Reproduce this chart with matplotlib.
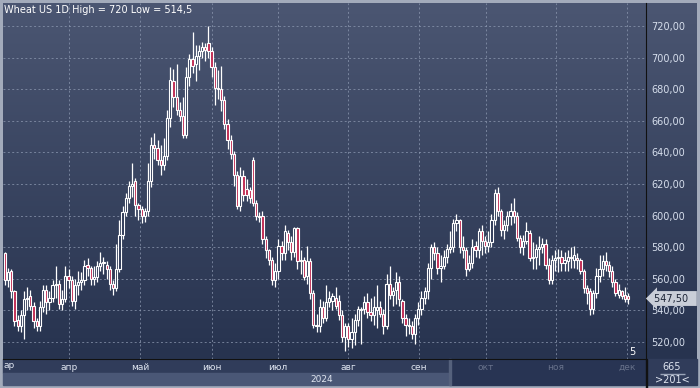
import matplotlib.pyplot as plt
import matplotlib.transforms as mtransforms
import numpy as np
from matplotlib.colors import LinearSegmentedColormap
from matplotlib.patches import Rectangle

opens = [576, 559, 565, 552, 534, 530, 537, 547, 549, 543, 533, 530, 542, 553, 545, 548, 556, 557, 544, 547,
         562, 559, 546, 556, 558, 559, 569, 567, 560, 561, 568, 570, 569, 566, 557, 554, 566, 588, 602, 611,
         619, 622,
         607, 604, 600, 603, 622, 645, 643, 635, 632, 638, 662, 685, 675, 667, 663, 651, 688, 699,
         696, 701, 704, 707, 709, 704, 694, 681, 680, 673, 658, 648, 639, 626, 606, 625, 617, 616, 635, 608,
         599, 600, 585, 578,
         572, 559, 565, 581, 576, 589, 583, 577, 592, 571, 572, 562, 571, 551, 531, 530, 542, 535, 545, 546,
         548, 546, 537, 523, 530, 522, 526, 534, 540, 541, 545, 539, 537, 540, 542, 538, 530, 557, 550, 553,
         558, 546, 535, 531, 530, 525, 535, 541, 548, 552, 567, 580, 576, 567, 568, 574, 579, 580, 595, 597,
         580, 578, 566, 570, 581, 578, 590, 584, 581, 583, 597, 614, 603, 591, 594, 600, 603, 600, 586, 580,
         584, 589, 573, 574, 579, 580, 582, 569, 559, 572, 573, 574, 570, 571, 574, 572, 573, 572, 565, 554,
         552, 541, 551, 562, 566, 571, 569, 565, 558, 550, 552, 550, 549]
highs = [577, 567, 566, 553, 537, 540, 552, 555, 553, 545, 535, 546, 556, 556, 552, 559, 568, 559, 553, 568,
         566, 562, 560, 565, 564, 572, 573, 568, 568, 571, 577, 574, 571, 568, 559, 582, 597, 606, 614, 622,
         633, 624,
         608, 606, 605, 633, 650, 652, 648, 645, 649, 667, 694, 693, 696, 672, 675, 694, 702, 716,
         708, 708, 710, 709, 720, 707, 697, 692, 695, 676, 661, 651, 641, 628, 631, 629, 623, 618, 637, 610,
         602, 603, 587, 579,
         574, 570, 585, 584, 594, 591, 587, 593, 593, 578, 574, 581, 573, 553, 538, 547, 546, 556, 552, 551,
         555, 550, 540, 532, 532, 535, 538, 543, 542, 549, 551, 548, 549, 556, 546, 541, 563, 568, 555, 564,
         562, 547, 538, 535, 533, 538, 545, 552, 555, 570, 582, 583, 580, 575, 578, 582, 590, 598, 601,
         598, 587, 580, 575, 585, 584, 592, 594, 587, 590, 601, 617, 618, 604, 597, 603, 608, 611, 602, 588,
         588, 596, 591, 583, 582, 587, 586, 585, 573, 575, 578, 579, 578, 577, 578, 580, 581, 576, 573, 566,
         556, 554, 553, 567, 575, 575, 577, 571, 568, 560, 557, 553, 555, 551]
lows = [556, 555, 548, 530, 527, 526, 522, 540, 540, 529, 527, 527, 539, 538, 540, 545, 548, 541, 540, 545,
        554, 543, 541, 550, 553, 556, 562, 556, 556, 558, 565, 563, 560, 553, 550, 552, 564, 585, 600, 608,
        612, 600,
        597, 595, 596, 600, 618, 636, 632, 626, 629, 635, 656, 669, 664, 660, 649, 649, 682, 690,
        685, 692, 700, 698, 700, 688, 670, 674, 666, 655, 642, 636, 619, 604, 603, 609, 609, 608, 606, 597,
        596, 582, 573, 569,
        556, 555, 560, 572, 572, 578, 572, 574, 566, 563, 559, 557, 547, 529, 526, 526, 532, 533, 542, 540,
        541, 534, 520, 514.5, 517, 516, 518, 530, 519, 538, 535, 533, 531, 529, 536, 525, 528, 547, 543, 544,
        543, 532, 524, 525, 522, 519, 531, 537, 544, 547, 560, 572, 563, 558, 566, 570, 576, 577, 590,
        576, 573, 562, 565, 567, 574, 573, 575, 576, 577, 580, 594, 600, 587, 585, 590, 594, 595, 584, 576,
        575, 582, 571, 566, 566, 569, 576, 566, 557, 557, 565, 564, 565, 565, 565, 567, 567, 566, 563, 551,
        544, 537, 538, 548, 558, 562, 565, 561, 555, 549, 548, 547, 545, 544]
closes = [559, 564, 552, 533, 530, 537, 547, 548, 543, 533, 530, 542, 553, 545, 548, 556, 557, 544, 547, 562,
          559, 546, 556, 558, 559, 568, 567, 560, 561, 568, 570, 570, 566, 557, 554, 566, 588, 602, 611, 619,
          620, 607,
          604, 600, 603, 622, 645, 643, 635, 632, 638, 662, 686, 675, 667, 663, 651, 688, 699, 695,
          701, 704, 707, 705, 704, 694, 681, 680, 673, 658, 648, 639, 626, 606, 625, 613, 613, 611, 608, 600,
          600, 585, 578, 572,
          559, 565, 581, 576, 590, 583, 577, 592, 571, 572, 561, 571, 551, 531, 530, 542, 535, 545, 548, 549,
          543, 537, 523, 530, 522, 526, 534, 541, 541, 545, 539, 537, 542, 542, 538, 530, 557, 550, 552, 558,
          547, 535, 531, 530, 525, 535, 541, 548, 552, 567, 580, 576, 567, 568, 574, 579, 580, 595, 597,
          580, 578, 566, 570, 580, 578, 590, 584, 581, 583, 597, 614, 603, 591, 594, 600, 603, 600, 586, 580,
          584, 590, 573, 574, 579, 580, 582, 569, 559, 572, 573, 574, 570, 572, 574, 573, 575, 572, 565, 554,
          551, 541, 551, 562, 566, 571, 569, 565, 558, 551, 553, 549, 547, 547.5]

month_pos = [20.1, 42.5, 65.1, 85.8, 107.9, 130.2, 151.3, 173.3, 195.6]
month_labels = ['апр', 'май', 'июн', 'июл', 'авг', 'сен', 'окт', 'ноя', 'дек']
price_ticks = [520, 540, 560, 580, 600, 620, 640, 660, 680, 700, 720]

W, H = 700, 388


def fx(px):
    return px / W


def fy(py):
    return 1 - py / H


def panel(x0, y0, x1, y1, color, z=-1):
    # Rechteck in Pixelkoordinaten (y von oben)
    fig.patches.append(Rectangle((fx(x0), fy(y1)), fx(x1) - fx(x0), fy(y0) - fy(y1),
                                 transform=fig.transFigure, color=color, zorder=z))


fig = plt.figure(figsize=(7, 3.88), dpi=100)
fig.patch.set_facecolor('#a3abbb')

# Hintergrund mit Farbverlauf (Chart + Preisachse)
bg = fig.add_axes([fx(3), fy(359), fx(697) - fx(3), fy(3) - fy(359)])
bg.set_zorder(-3)
grad = np.linspace(0, 1, 256).reshape(-1, 1)
cmap = LinearSegmentedColormap.from_list('bg', ['#4b5672', '#27334f'])
bg.imshow(grad, aspect='auto', cmap=cmap, extent=[0, 1, 0, 1])
bg.axis('off')

# Datumsleiste unten
panel(3, 359, 450, 373, '#303c5a')
panel(3, 373, 450, 385, '#4a5776')
panel(450, 359, 646, 385, '#283453')
panel(449, 359, 451, 385, '#55617c')
panel(647, 359, 697, 385, '#303c5a')
panel(646, 359, 647, 388, '#111111')
panel(660, 373.5, 685, 374.2, '#9aa4b8')

ax = fig.add_axes([fx(3), fy(359), (646 - 3) / W, (359 - 3) / H])
ax.patch.set_alpha(0)

o = np.array(opens, dtype=float)
h = np.array(highs, dtype=float)
l = np.array(lows, dtype=float)
c = np.array(closes, dtype=float)
x = np.arange(len(c))
up = c >= o
top = np.maximum(o, c)
bot = np.minimum(o, c)

ax.vlines(x, top, h, color='white', lw=0.9, zorder=3)
ax.vlines(x, l, bot, color='white', lw=0.9, zorder=3)
ax.bar(x, np.maximum(top - bot, 0.4), bottom=bot, width=0.7,
       color=np.where(up, '#2d3956', '#c02a52'), edgecolor='white', linewidth=0.8, zorder=4)

ax.set_xlim(-0.6, 201.6)
ax.set_ylim(509.2, 734.6)

ax.set_yticks(price_ticks)
ax.set_yticklabels([f'{v:.2f}'.replace('.', ',') for v in price_ticks])
ax.yaxis.tick_right()
ax.tick_params(axis='y', length=0, pad=4, labelsize=7, labelcolor='#d6deec')
ax.set_xticks(month_pos)
ax.set_xticklabels(month_labels)
ax.tick_params(axis='x', length=0, pad=3, labelsize=6.5)
for i, lab in enumerate(ax.get_xticklabels()):
    lab.set_color('#dfe5f0' if i < 6 else '#67718a')

ax.grid(True, color='#8c98b0', ls=(0, (2, 2.5)), lw=0.7, alpha=0.75)
ax.set_axisbelow(True)
for side in ['top', 'left']:
    ax.spines[side].set_visible(False)
ax.spines['right'].set_color('#111111')
ax.spines['bottom'].set_color('#111111')

fig.text(fx(4), fy(10), 'Wheat US 1D High = 720 Low = 514,5', fontsize=7, color='white', va='center')
fig.text(fx(3), fy(366), 'ар', fontsize=6.5, color='#dfe5f0', va='center')
fig.text(fx(322), fy(379), '2024', fontsize=6.5, color='#dfe5f0', va='center', ha='center')
fig.text(fx(632), fy(352), '5', fontsize=7, color='white', va='center', ha='center')
fig.text(fx(672), fy(367), '665', fontsize=7, color='#dfe5f0', va='center', ha='center')
fig.text(fx(672), fy(380), '>201<', fontsize=7, color='#dfe5f0', va='center', ha='center')

trans = mtransforms.blended_transform_factory(fig.transFigure, ax.transData)
ax.text(fx(654), closes[-1], '547,50  ', transform=trans, fontsize=7, color='#1c2436',
        va='center', ha='left', clip_on=False,
        bbox=dict(boxstyle='larrow,pad=0.25', facecolor='#c9ced8', edgecolor='none'))

fig.savefig('out.png', dpi=100, facecolor=fig.get_facecolor())
